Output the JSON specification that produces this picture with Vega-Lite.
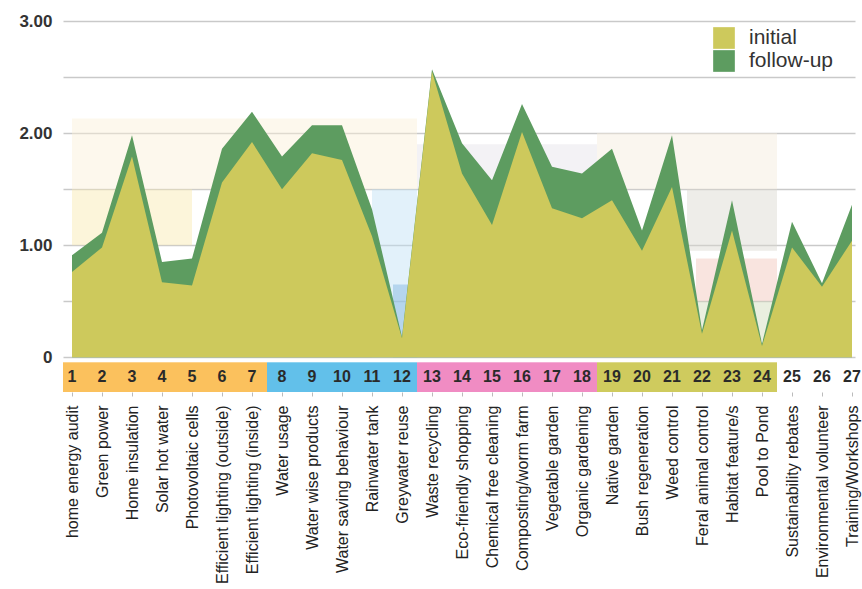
{
  "$schema": "https://vega.github.io/schema/vega-lite/v6.json",
  "width": 792,
  "height": 371,
  "autosize": "none",
  "padding": {"left": 63, "top": 21, "right": 7, "bottom": 197},
  "background": "white",
  "config": {"view": {"stroke": null}, "font": "Liberation Sans"},
  "datasets": {
    "scores": [
      {"id": 1, "name": "home energy audit", "group": "energy", "initial": 0.76, "followup": 0.91},
      {"id": 2, "name": "Green power", "group": "energy", "initial": 0.98, "followup": 1.11},
      {"id": 3, "name": "Home insulation", "group": "energy", "initial": 1.79, "followup": 1.98},
      {"id": 4, "name": "Solar hot water", "group": "energy", "initial": 0.67, "followup": 0.85},
      {"id": 5, "name": "Photovoltaic cells", "group": "energy", "initial": 0.64, "followup": 0.88},
      {"id": 6, "name": "Efficient lighting (outside)", "group": "energy", "initial": 1.56, "followup": 1.86},
      {"id": 7, "name": "Efficient lighting (inside)", "group": "energy", "initial": 1.92, "followup": 2.19},
      {"id": 8, "name": "Water usage", "group": "water", "initial": 1.5, "followup": 1.79},
      {"id": 9, "name": "Water wise products", "group": "water", "initial": 1.82, "followup": 2.07},
      {"id": 10, "name": "Water saving behaviour", "group": "water", "initial": 1.76, "followup": 2.07},
      {"id": 11, "name": "Rainwater tank", "group": "water", "initial": 1.08, "followup": 1.32},
      {"id": 12, "name": "Greywater reuse", "group": "water", "initial": 0.17, "followup": 0.18},
      {"id": 13, "name": "Waste recycling", "group": "waste", "initial": 2.55, "followup": 2.57},
      {"id": 14, "name": "Eco-friendly shopping", "group": "waste", "initial": 1.64, "followup": 1.91},
      {"id": 15, "name": "Chemical free cleaning", "group": "waste", "initial": 1.18, "followup": 1.58},
      {"id": 16, "name": "Composting/worm farm", "group": "waste", "initial": 2.01, "followup": 2.26},
      {"id": 17, "name": "Vegetable garden", "group": "waste", "initial": 1.33, "followup": 1.7},
      {"id": 18, "name": "Organic gardening", "group": "waste", "initial": 1.24, "followup": 1.64},
      {"id": 19, "name": "Native garden", "group": "garden", "initial": 1.4, "followup": 1.86},
      {"id": 20, "name": "Bush regeneration", "group": "garden", "initial": 0.95, "followup": 1.13},
      {"id": 21, "name": "Weed control", "group": "garden", "initial": 1.52, "followup": 1.98},
      {"id": 22, "name": "Feral animal control", "group": "garden", "initial": 0.21, "followup": 0.24},
      {"id": 23, "name": "Habitat feature/s", "group": "garden", "initial": 1.13, "followup": 1.4},
      {"id": 24, "name": "Pool to Pond", "group": "garden", "initial": 0.1, "followup": 0.12},
      {"id": 25, "name": "Sustainability rebates", "group": "other", "initial": 0.98, "followup": 1.21},
      {"id": 26, "name": "Environmental volunteer", "group": "other", "initial": 0.63, "followup": 0.66},
      {"id": 27, "name": "Training/Workshops", "group": "other", "initial": 1.04, "followup": 1.36}
    ],
    "bands": [
      {"from": 1, "to": 12.5, "lo": 1.5, "hi": 2.13, "shade": "cream"},
      {"from": 1, "to": 5, "lo": 1.0, "hi": 1.5, "shade": "yellowband"},
      {"from": 11, "to": 12.5, "lo": 0, "hi": 1.5, "shade": "lightblue"},
      {"from": 11.7, "to": 12.5, "lo": 0, "hi": 0.65, "shade": "blue"},
      {"from": 12.5, "to": 18.5, "lo": 1.5, "hi": 1.9, "shade": "lavender"},
      {"from": 18.5, "to": 24.5, "lo": 1.5, "hi": 2.0, "shade": "beige"},
      {"from": 21.5, "to": 24.5, "lo": 0.95, "hi": 1.5, "shade": "gray"},
      {"from": 21.8, "to": 24.5, "lo": 0.5, "hi": 0.88, "shade": "pink"},
      {"from": 21.8, "to": 24.5, "lo": 0.15, "hi": 0.5, "shade": "palegreen"}
    ]
  },
  "resolve": {"scale": {"x": "independent"}},
  "layer": [
    {
      "data": {"name": "bands"},
      "mark": {"type": "rect", "opacity": 0.45},
      "encoding": {
        "x": {"field": "from", "type": "quantitative", "scale": {"domain": [0.7, 27.1], "nice": false, "zero": false}, "axis": null},
        "x2": {"field": "to"},
        "y": {"field": "lo", "type": "quantitative", "scale": {"domain": [-0.31, 3], "nice": false, "zero": false}, "axis": {"values": [0, 0.5, 1, 1.5, 2, 2.5, 3], "labelExpr": "datum.value == 0 ? '0' : (datum.value % 1 == 0 ? format(datum.value, '.2f') : '')", "grid": true, "gridColor": "#c9c9c9", "gridWidth": 1.5, "ticks": false, "domain": false, "labelFontSize": 17, "labelFontWeight": "bold", "labelColor": "#333333", "labelPadding": 11, "title": null}},
        "y2": {"field": "hi"},
        "fill": {"field": "shade", "type": "nominal", "legend": null, "scale": {"domain": ["energy", "water", "waste", "garden", "other", "cream", "yellowband", "lightblue", "blue", "lavender", "beige", "gray", "pink", "palegreen"], "range": ["#fbc15d", "#62c0ea", "#f08cc3", "#cfcb5e", "#ffffff", "#fbefd6", "#f9e9ad", "#bfe1f5", "#7fb3e0", "#e5e2e8", "#f5ecdb", "#dad7cf", "#f2c3b7", "#d1dcb9"]}}
      }
    },
    {
      "data": {"name": "scores"},
      "layer": [
        {
          "mark": {"type": "area", "interpolate": "linear"},
          "encoding": {
            "x": {"field": "name", "type": "nominal", "sort": null, "scale": {"type": "point", "padding": 0.2, "align": 0.75}, "axis": {"title": null, "labelAngle": 270, "labelFontSize": 16, "labelColor": "#222222", "ticks": true, "tickSize": 4, "tickColor": "#bbbbbb", "domain": false, "grid": false, "labelPadding": 9, "labelLimit": 300}},
            "y": {"field": "followup", "type": "quantitative"},
            "color": {"datum": "follow-up", "scale": {"domain": ["initial", "follow-up"], "range": ["#cdc95c", "#5d9c60"]}, "legend": {"orient": "none", "legendX": 650, "legendY": 6, "title": null, "symbolType": "square", "symbolSize": 470, "symbolOpacity": 1, "symbolStrokeWidth": 0, "labelFontSize": 21, "labelColor": "#333333", "labelOffset": 14, "rowPadding": 1, "padding": 0}}
          }
        },
        {
          "mark": {"type": "area", "interpolate": "linear"},
          "encoding": {
            "x": {"field": "name", "type": "nominal", "sort": null},
            "y": {"field": "initial", "type": "quantitative"},
            "color": {"datum": "initial"}
          }
        },
        {
          "mark": {"type": "bar", "width": 30, "clip": true},
          "encoding": {
            "x": {"field": "name", "type": "nominal", "sort": null},
            "y": {"datum": -0.045},
            "y2": {"datum": -0.31},
            "fill": {"field": "group", "type": "nominal", "legend": null}
          }
        },
        {
          "mark": {"type": "text", "fontSize": 16, "fontWeight": "bold", "color": "#2a2a2a", "baseline": "middle"},
          "encoding": {
            "x": {"field": "name", "type": "nominal", "sort": null},
            "y": {"datum": -0.178},
            "text": {"field": "id", "type": "nominal"}
          }
        }
      ]
    }
  ]
}
